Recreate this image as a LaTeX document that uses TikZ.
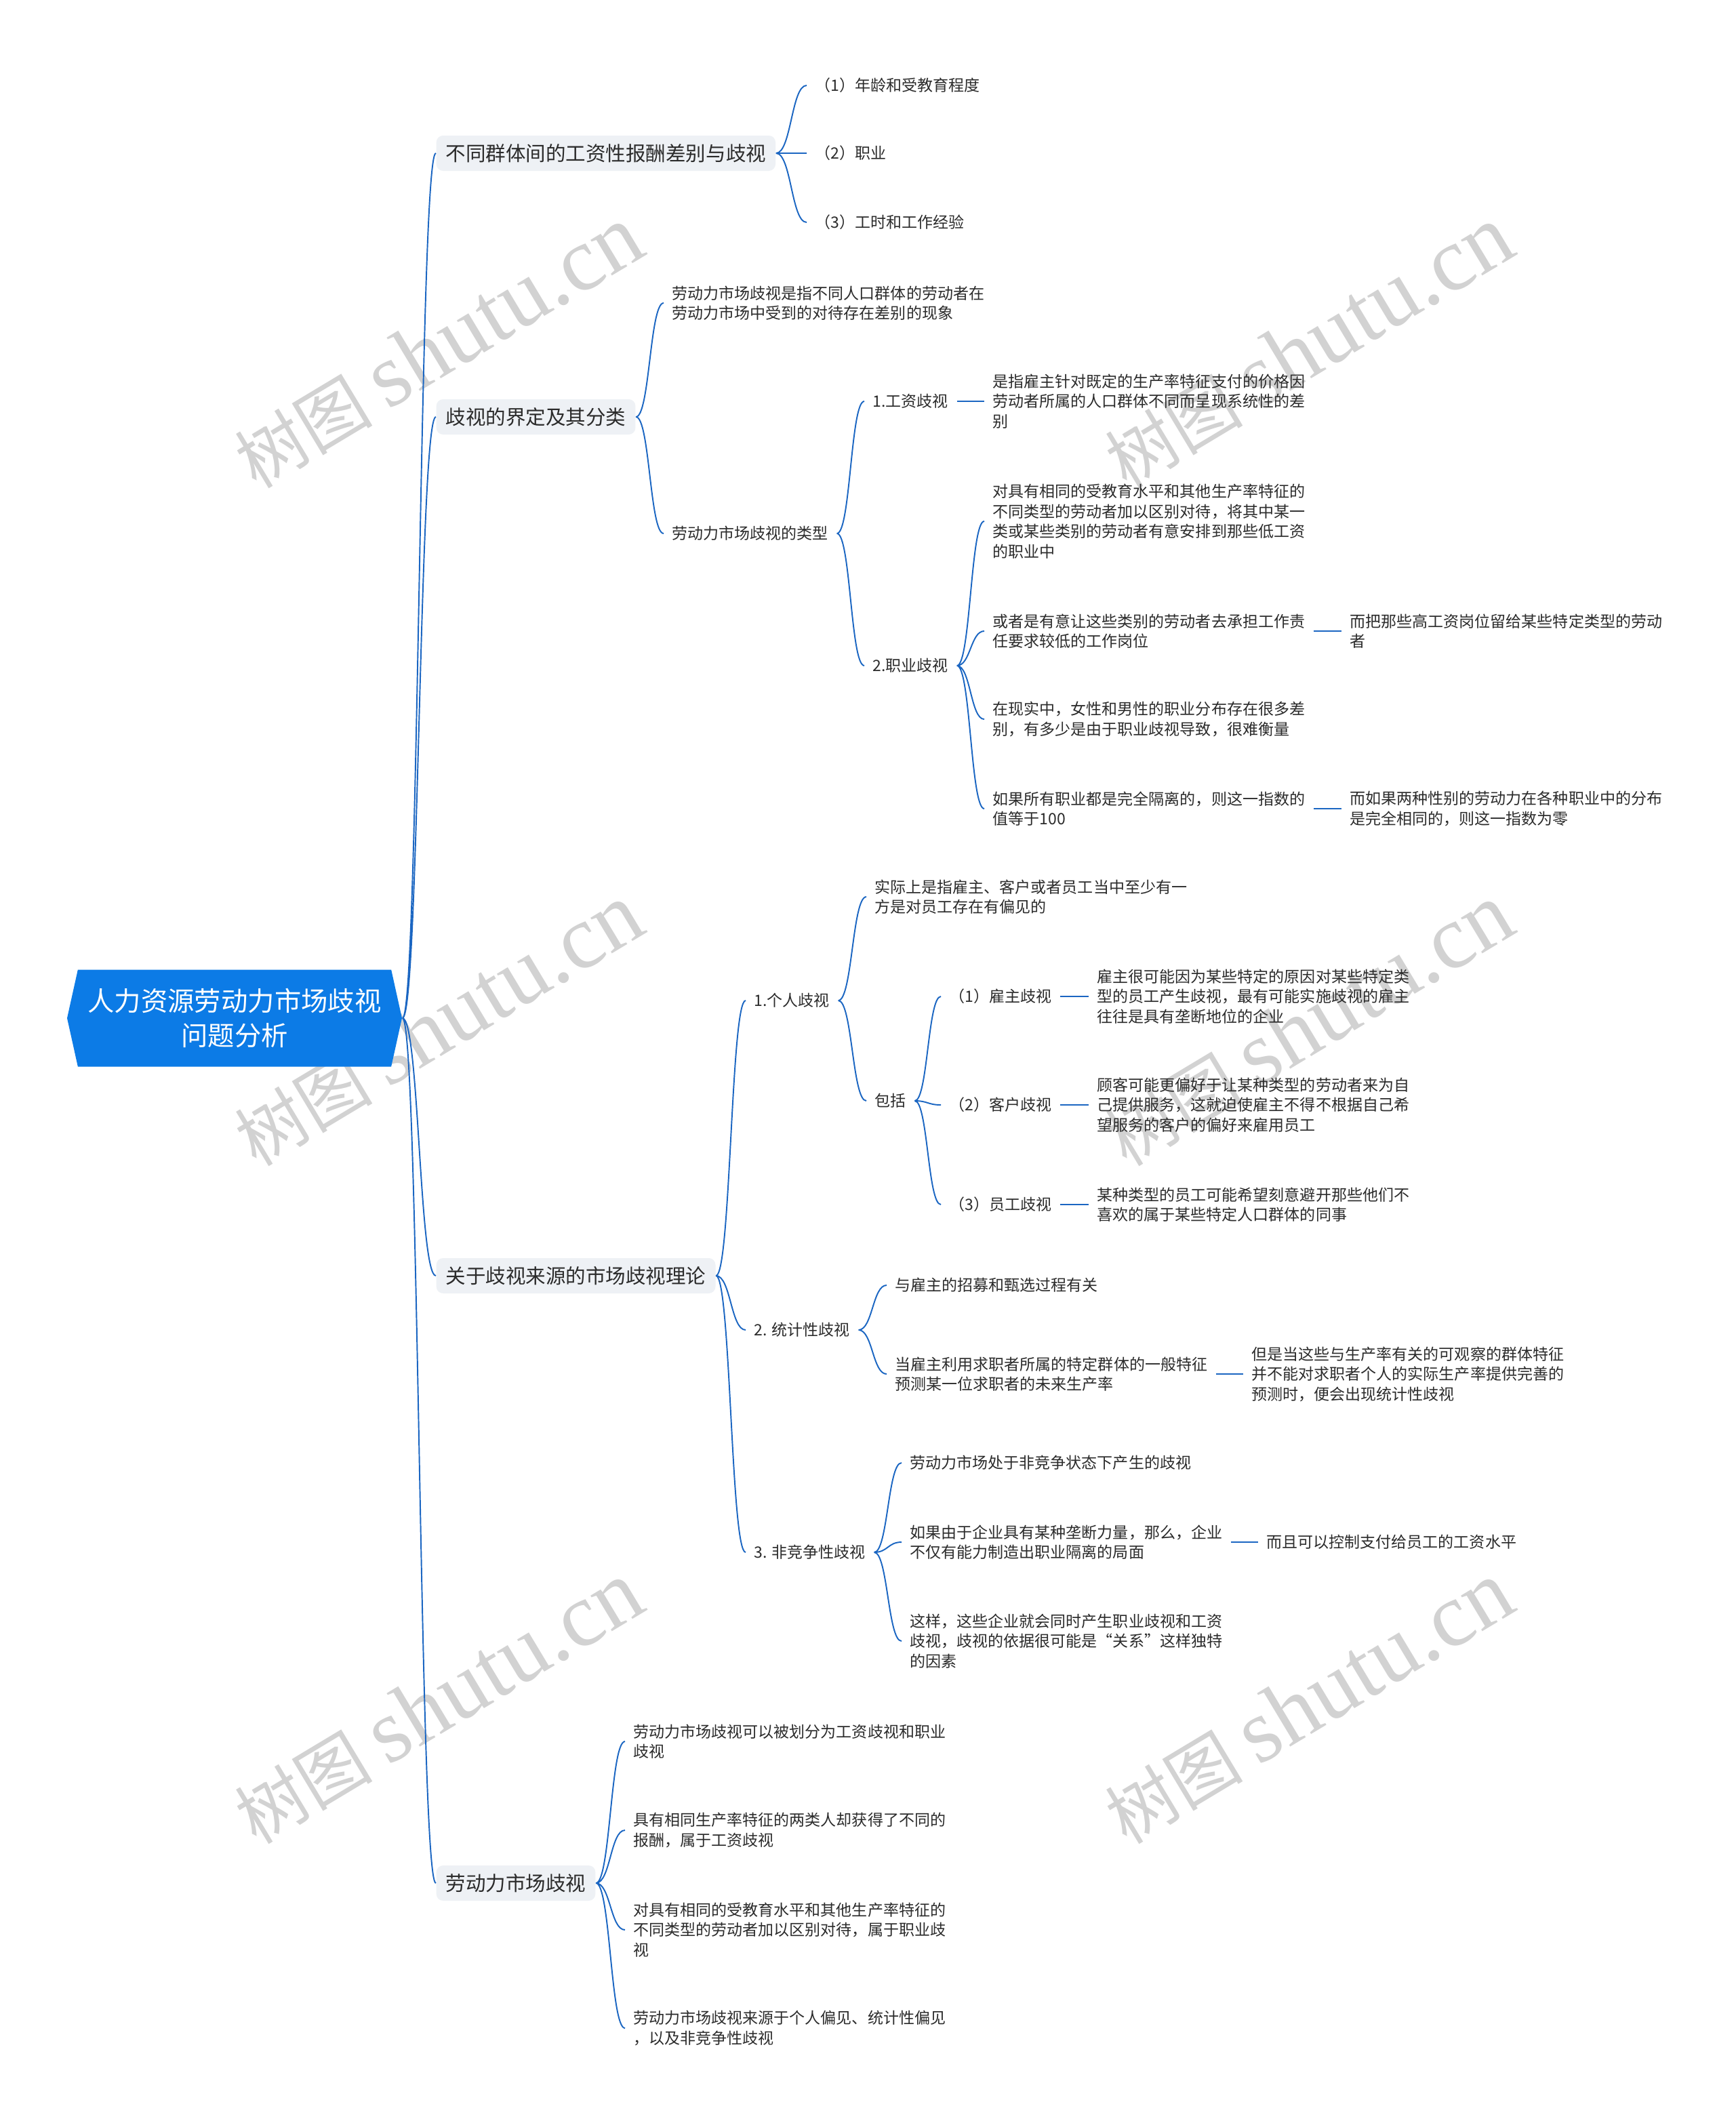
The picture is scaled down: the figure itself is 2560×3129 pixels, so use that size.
\documentclass[tikz,border=0pt]{standalone}
\usepackage{fontspec}
\setmainfont{Noto Sans CJK SC}
\newfontfamily\marklatin{Liberation Serif}
\usetikzlibrary{calc,shapes.symbols}
\definecolor{root-blue}{HTML}{0C7BE6}
\definecolor{link-blue}{HTML}{1B66C2}
\definecolor{box-gray}{HTML}{EEF1F5}
\definecolor{ink}{HTML}{2B2B2B}
\definecolor{mark-gray}{HTML}{D2D2D2}
\tikzset{
    root-box/.style = {shape=signal, signal to=west and east, signal pointer angle=155, fill=root-blue, text=white, align=center, minimum width=49.4mm, minimum height=14.3mm, inner sep=0pt, font=\fontsize{11.2pt}{14.7pt}\selectfont},
    main-box/.style = {anchor=west, fill=box-gray, rounded corners=1mm, text=ink, inner xsep=1.4mm, inner ysep=0pt, minimum height=5.2mm, font=\fontsize{8.4pt}{10pt}\selectfont},
    leaf/.style = {anchor=west, align=left, text=ink, inner xsep=1.2mm, inner ysep=0.5mm, font=\fontsize{6.55pt}{8.4pt}\selectfont},
    link/.style = {draw=link-blue, line width=0.55pt, to path={let \p1=(\tikztostart), \p2=(\tikztotarget) in .. controls ({0.5*(\x1+\x2)},\y1) and ({0.5*(\x1+\x2)},\y2) .. (\tikztotarget)}},
    water-mark/.style = {text=mark-gray, rotate=31, inner sep=0pt, font=\fontsize{29pt}{29pt}\selectfont},
}
\newcommand{\markname}{树图 {\marklatin\fontsize{38pt}{38pt}\selectfont shutu.cn}}

\begin{document}
\begin{tikzpicture}[x=0.1mm, y=-0.1mm]
\fill[white] (0,0) rectangle (2560,3129);
\useasboundingbox (0,0) rectangle (2560,3129);

% watermarks
\node[water-mark] (wm1) at (646,512) {\markname};
\node[water-mark] (wm2) at (1930,512) {\markname};
\node[water-mark] (wm3) at (646,1512) {\markname};
\node[water-mark] (wm4) at (1930,1512) {\markname};
\node[water-mark] (wm5) at (646,2512) {\markname};
\node[water-mark] (wm6) at (1930,2512) {\markname};

\node[root-box] (root) at (346,1502) {人力资源劳动力市场歧视\\问题分析};

\node[main-box] (wage) at (643,226) {不同群体间的工资性报酬差别与歧视};
\node[main-box] (define) at (643,615) {歧视的界定及其分类};
\node[main-box] (theory) at (643,1882) {关于歧视来源的市场歧视理论};
\node[main-box] (market) at (643,2778) {劳动力市场歧视};

% wage branch
\node[leaf] (wage-age) at (1190,126) {（1）年龄和受教育程度};
\node[leaf] (wage-job) at (1190,226) {（2）职业};
\node[leaf] (wage-hours) at (1190,328) {（3）工时和工作经验};

% define branch
\node[leaf] (define-text) at (979,447) {劳动力市场歧视是指不同人口群体的劳动者在\\劳动力市场中受到的对待存在差别的现象};
\node[leaf] (define-type) at (979,787) {劳动力市场歧视的类型};
\node[leaf] (type-pay) at (1275,592) {1.工资歧视};
\node[leaf] (pay-text) at (1452,592) {是指雇主针对既定的生产率特征支付的价格因\\劳动者所属的人口群体不同而呈现系统性的差\\别};
\node[leaf] (type-job) at (1275,982) {2.职业歧视};
\node[leaf] (job-a) at (1452,769) {对具有相同的受教育水平和其他生产率特征的\\不同类型的劳动者加以区别对待，将其中某一\\类或某些类别的劳动者有意安排到那些低工资\\的职业中};
\node[leaf] (job-b) at (1452,931) {或者是有意让这些类别的劳动者去承担工作责\\任要求较低的工作岗位};
\node[leaf] (job-b-more) at (1979,931) {而把那些高工资岗位留给某些特定类型的劳动\\者};
\node[leaf] (job-c) at (1452,1061) {在现实中，女性和男性的职业分布存在很多差\\别，有多少是由于职业歧视导致，很难衡量};
\node[leaf] (job-d) at (1452,1193) {如果所有职业都是完全隔离的，则这一指数的\\值等于100};
\node[leaf] (job-d-more) at (1979,1193) {而如果两种性别的劳动力在各种职业中的分布\\是完全相同的，则这一指数为零};

% theory branch
\node[leaf] (theory-own) at (1100,1476) {1.个人歧视};
\node[leaf] (own-text) at (1278,1323) {实际上是指雇主、客户或者员工当中至少有一\\方是对员工存在有偏见的};
\node[leaf] (own-incl) at (1278,1624) {包括};
\node[leaf] (incl-boss) at (1388,1470) {（1）雇主歧视};
\node[leaf] (boss-text) at (1606,1470) {雇主很可能因为某些特定的原因对某些特定类\\型的员工产生歧视，最有可能实施歧视的雇主\\往往是具有垄断地位的企业};
\node[leaf] (incl-client) at (1388,1630) {（2）客户歧视};
\node[leaf] (client-text) at (1606,1630) {顾客可能更偏好于让某种类型的劳动者来为自\\己提供服务，这就迫使雇主不得不根据自己希\\望服务的客户的偏好来雇用员工};
\node[leaf] (incl-staff) at (1388,1777) {（3）员工歧视};
\node[leaf] (staff-text) at (1606,1777) {某种类型的员工可能希望刻意避开那些他们不\\喜欢的属于某些特定人口群体的同事};

\node[leaf] (theory-stat) at (1100,1962) {2. 统计性歧视};
\node[leaf] (stat-a) at (1308,1896) {与雇主的招募和甄选过程有关};
\node[leaf] (stat-b) at (1308,2027) {当雇主利用求职者所属的特定群体的一般特征\\预测某一位求职者的未来生产率};
\node[leaf] (stat-b-more) at (1834,2027) {但是当这些与生产率有关的可观察的群体特征\\并不能对求职者个人的实际生产率提供完善的\\预测时，便会出现统计性歧视};

\node[leaf] (theory-mono) at (1100,2290) {3. 非竞争性歧视};
\node[leaf] (mono-a) at (1330,2158) {劳动力市场处于非竞争状态下产生的歧视};
\node[leaf] (mono-b) at (1330,2275) {如果由于企业具有某种垄断力量，那么，企业\\不仅有能力制造出职业隔离的局面};
\node[leaf] (mono-b-more) at (1856,2275) {而且可以控制支付给员工的工资水平};
\node[leaf] (mono-c) at (1330,2421) {这样，这些企业就会同时产生职业歧视和工资\\歧视，歧视的依据很可能是“关系”这样独特\\的因素};

% market branch
\node[leaf] (market-a) at (922,2569) {劳动力市场歧视可以被划分为工资歧视和职业\\歧视};
\node[leaf] (market-b) at (922,2700) {具有相同生产率特征的两类人却获得了不同的\\报酬，属于工资歧视};
\node[leaf] (market-c) at (922,2847) {对具有相同的受教育水平和其他生产率特征的\\不同类型的劳动者加以区别对待，属于职业歧\\视};
\node[leaf] (market-d) at (922,2992) {劳动力市场歧视来源于个人偏见、统计性偏见\\，以及非竞争性歧视};

% connectors
\draw[link] (root.east) to (wage.west) (root.east) to (define.west)
  (root.east) to (theory.west) (root.east) to (market.west);
\draw[link] (wage.east) to (wage-age.west) (wage.east) to (wage-job.west)
  (wage.east) to (wage-hours.west);
\draw[link] (define.east) to (define-text.west) (define.east) to (define-type.west);
\draw[link] (define-type.east) to (type-pay.west) (define-type.east) to (type-job.west);
\draw[link] (type-pay.east) to (pay-text.west);
\draw[link] (type-job.east) to (job-a.west) (type-job.east) to (job-b.west)
  (type-job.east) to (job-c.west) (type-job.east) to (job-d.west);
\draw[link] (job-b.east) to (job-b-more.west);
\draw[link] (job-d.east) to (job-d-more.west);
\draw[link] (theory.east) to (theory-own.west) (theory.east) to (theory-stat.west)
  (theory.east) to (theory-mono.west);
\draw[link] (theory-own.east) to (own-text.west) (theory-own.east) to (own-incl.west);
\draw[link] (own-incl.east) to (incl-boss.west) (own-incl.east) to (incl-client.west)
  (own-incl.east) to (incl-staff.west);
\draw[link] (incl-boss.east) to (boss-text.west);
\draw[link] (incl-client.east) to (client-text.west);
\draw[link] (incl-staff.east) to (staff-text.west);
\draw[link] (theory-stat.east) to (stat-a.west) (theory-stat.east) to (stat-b.west);
\draw[link] (stat-b.east) to (stat-b-more.west);
\draw[link] (theory-mono.east) to (mono-a.west) (theory-mono.east) to (mono-b.west)
  (theory-mono.east) to (mono-c.west);
\draw[link] (mono-b.east) to (mono-b-more.west);
\draw[link] (market.east) to (market-a.west) (market.east) to (market-b.west)
  (market.east) to (market-c.west) (market.east) to (market-d.west);
\end{tikzpicture}
\end{document}
